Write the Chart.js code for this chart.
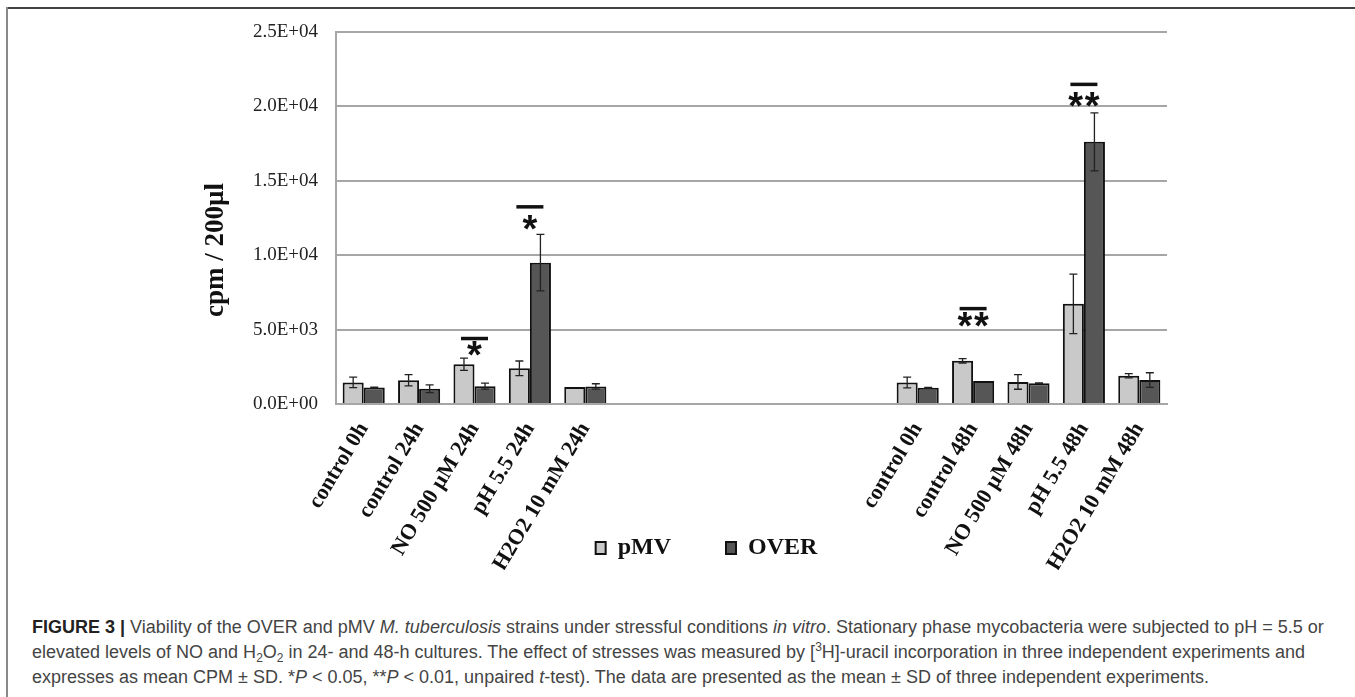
<!DOCTYPE html>
<html>
<head>
<meta charset="utf-8">
<script src="https://cdn.jsdelivr.net/npm/chart.js@4.4.1/dist/chart.umd.min.js"></script>
<style>
  html, body { margin: 0; padding: 0; background: #fff; }
  body { width: 1355px; height: 697px; position: relative; overflow: hidden; }
  #frameTop { position: absolute; left: 7px; top: 7px; width: 1348px; height: 2px; background: #444; }
  #frameLeft { position: absolute; left: 6px; top: 7px; width: 2px; height: 690px; background: #888; }
  #wrap { position: absolute; left: 37px; top: 10px; width: 1318px; height: 560px; }
  #caption { position: absolute; left: 32px; top: 615px; font-family: "Liberation Sans", Arial, sans-serif; font-size: 18px; line-height: 25px; color: #444; white-space: nowrap; }
  #caption b { color: #222; }
  #caption sub, #caption sup { font-size: 12px; line-height: 0; position: relative; vertical-align: baseline; }
  #caption sub { top: 4px; }
  #caption sup { top: -7px; }
</style>
</head>
<body>
<div id="frameTop"></div>
<div id="frameLeft"></div>
<div id="wrap"><canvas id="c"></canvas></div>
<div id="caption">
  <div><b>FIGURE 3 |</b> Viability of the OVER and pMV <i>M. tuberculosis</i> strains under stressful conditions <i>in vitro</i>. Stationary phase mycobacteria were subjected to pH = 5.5 or</div>
  <div>elevated levels of NO and H<sub>2</sub>O<sub>2</sub> in 24- and 48-h cultures. The effect of stresses was measured by [<sup>3</sup>H]-uracil incorporation in three independent experiments and</div>
  <div>expresses as mean CPM ± SD. *<i>P</i> &lt; 0.05, **<i>P</i> &lt; 0.01, unpaired <i>t</i>-test). The data are presented as the mean ± SD of three independent experiments.</div>
</div>
<script>
// ---- data ----
const categories = ['control 0h', 'control 24h', 'NO 500 µM 24h', 'pH 5.5 24h', 'H2O2 10 mM 24h',
  '', '', '', '', '',
  'control 0h', 'control 48h', 'NO 500 µM 48h', 'pH 5.5 48h', 'H2O2 10 mM 48h'];
const seriesNames = ['pMV', 'OVER'];
const pmvValues  = [1450, 1600, 2670, 2400, 1150, null, null, null, null, null, 1450, 2900, 1480, 6730, 1900];
const pmvErrors  = [350, 380, 410, 490, 0, null, null, null, null, null, 360, 145, 490, 2000, 145];
const overValues = [1110, 1030, 1200, 9500, 1180, null, null, null, null, null, 1100, 1540, 1400, 17620, 1610];
const overErrors = [30, 260, 200, 1900, 180, null, null, null, null, null, 20, 0, 20, 1950, 490];
const yTickLabels = ['0.0E+00', '5.0E+03', '1.0E+04', '1.5E+04', '2.0E+04', '2.5E+04'];
const yAxisTitle = 'cpm / 200µl';
// significance markers: category index, bar level, star level, label
const sigCategories = [2, 3, 11, 13];
const sigLineValues = [4400, 13250, 6410, 21480];
const sigStarValues = [3520, 11990, 5430, 20220];
const sigLabels = ['*', '*', '**', '**'];

const errorArrays = [pmvErrors, overErrors];

const errorBarPlugin = {
  id: 'errorBars',
  afterDatasetsDraw(chart) {
    const ctx = chart.ctx;
    const y = chart.scales.y;
    ctx.save();
    ctx.strokeStyle = '#222';
    ctx.lineWidth = 1.3;
    chart.data.datasets.forEach((ds, di) => {
      const meta = chart.getDatasetMeta(di);
      meta.data.forEach((el, i) => {
        const v = ds.data[i];
        const e = errorArrays[di][i];
        if (v == null || !e) return;
        const x = el.x;
        const yt = y.getPixelForValue(v + e);
        const yb = y.getPixelForValue(v - e);
        const cap = 4;
        ctx.beginPath();
        ctx.moveTo(x, yt); ctx.lineTo(x, yb);
        ctx.moveTo(x - cap, yt); ctx.lineTo(x + cap, yt);
        ctx.moveTo(x - cap, yb); ctx.lineTo(x + cap, yb);
        ctx.stroke();
      });
    });
    ctx.restore();
  }
};

const sigPlugin = {
  id: 'sigMarks',
  afterDatasetsDraw(chart) {
    const ctx = chart.ctx;
    const xs = chart.scales.x, ys = chart.scales.y;
    ctx.save();
    ctx.fillStyle = '#111';
    ctx.strokeStyle = '#111';
    sigCategories.forEach((ci, k) => {
      const cx = xs.getPixelForValue(ci);
      const ly = ys.getPixelForValue(sigLineValues[k]);
      ctx.lineWidth = 3.5;
      ctx.beginPath();
      ctx.moveTo(cx - 13.5, ly); ctx.lineTo(cx + 13.5, ly);
      ctx.stroke();
      const sy = ys.getPixelForValue(sigStarValues[k]);
      ctx.font = 'bold 38px "Liberation Sans", Arial, sans-serif';
      ctx.textAlign = 'center';
      ctx.textBaseline = 'alphabetic';
      const n = sigLabels[k].length;
      const step = 16.6;
      for (let j = 0; j < n; j++) {
        const sx = cx + (j - (n - 1) / 2) * step;
        ctx.fillText('*', sx, sy + 16);
      }
    });
    ctx.restore();
  }
};

const yTitlePlugin = {
  id: 'yTitle',
  afterDraw(chart) {
    const ctx = chart.ctx;
    ctx.save();
    ctx.translate(179, 240);
    ctx.rotate(-Math.PI / 2);
    ctx.font = 'bold 27px "Liberation Serif", "Times New Roman", serif';
    ctx.fillStyle = '#111';
    ctx.textAlign = 'center';
    ctx.textBaseline = 'middle';
    ctx.fillText(yAxisTitle, 0, 0);
    ctx.restore();
  }
};

new Chart(document.getElementById('c'), {
  type: 'bar',
  data: {
    labels: categories,
    datasets: [
      { label: seriesNames[0], data: pmvValues, backgroundColor: '#c9c9c9', borderColor: '#111', borderWidth: 2, borderSkipped: 'bottom' },
      { label: seriesNames[1], data: overValues, backgroundColor: '#565656', borderColor: '#111', borderWidth: 2, borderSkipped: 'bottom' }
    ]
  },
  options: {
    responsive: true,
    maintainAspectRatio: false,
    animation: false,
    devicePixelRatio: 1,
    layout: { padding: { left: 209, right: 188, top: 22, bottom: 0 } },
    datasets: { bar: { categoryPercentage: 0.76, barPercentage: 1.0 } },
    plugins: {
      tooltip: { enabled: false },
      title: { display: false },
      legend: {
        display: true,
        position: 'bottom',
        labels: {
          boxWidth: 10,
          boxHeight: 12,
          padding: 55,
          color: '#111',
          font: { family: '"Liberation Serif", "Times New Roman", serif', size: 24, weight: 'bold' }
        }
      }
    },
    scales: {
      x: {
        grid: { display: false },
        border: { display: true, color: '#a6a6a6', width: 2 },
        ticks: {
          autoSkip: false,
          maxRotation: 59,
          minRotation: 59,
          padding: 6,
          color: '#111',
          font: { family: '"Liberation Serif", "Times New Roman", serif', size: 22, weight: 'bold' }
        },
        afterFit(scale) {
          scale.height = 77;
          // let rotated labels extend below the (shortened) axis box
          scale._computeLabelArea = function () { return undefined; };
        }
      },
      y: {
        min: 0,
        max: 25000,
        grid: { color: '#a6a6a6', lineWidth: 2, drawTicks: true, tickLength: 16, tickColor: 'rgba(0,0,0,0)' },
        border: { display: true, color: '#a6a6a6', width: 2 },
        ticks: {
          stepSize: 5000,
          padding: 2,
          color: '#222',
          font: { family: '"Liberation Serif", "Times New Roman", serif', size: 19 },
          callback: (v) => yTickLabels[Math.round(v / 5000)]
        },
        afterFit(scale) { scale.width = 90; }
      }
    }
  },
  plugins: [errorBarPlugin, sigPlugin, yTitlePlugin]
});
</script>
</body>
</html>
